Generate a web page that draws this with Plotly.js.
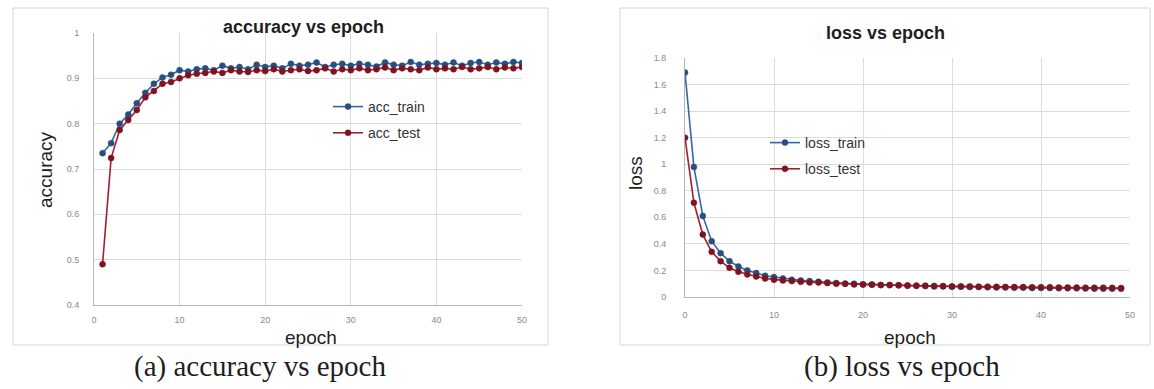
<!DOCTYPE html>
<html>
<head>
<meta charset="utf-8">
<script src="https://cdn.plot.ly/plotly-3.0.1.min.js"></script>
<style>html,body{margin:0;padding:0;background:#fff;}#chart{width:1154px;height:389px;}</style>
</head>
<body>
<div id="chart"></div>
<script>
// ---- data ----
const accEpochs = [1,2,3,4,5,6,7,8,9,10,11,12,13,14,15,16,17,18,19,20,21,22,23,24,25,26,27,28,29,30,31,32,33,34,35,36,37,38,39,40,41,42,43,44,45,46,47,48,49,50];
const accTrain = [0.735,0.757,0.80,0.82,0.845,0.868,0.888,0.902,0.908,0.918,0.915,0.92,0.922,0.918,0.928,0.922,0.925,0.92,0.93,0.925,0.928,0.922,0.932,0.928,0.93,0.935,0.925,0.93,0.932,0.928,0.932,0.93,0.926,0.935,0.93,0.928,0.936,0.93,0.932,0.934,0.93,0.935,0.928,0.934,0.936,0.93,0.935,0.932,0.936,0.934];
const accTest = [0.49,0.724,0.786,0.808,0.83,0.858,0.872,0.888,0.892,0.90,0.907,0.91,0.912,0.915,0.912,0.918,0.915,0.914,0.918,0.916,0.92,0.915,0.918,0.92,0.916,0.918,0.922,0.915,0.92,0.918,0.922,0.918,0.92,0.924,0.918,0.922,0.92,0.918,0.924,0.92,0.922,0.92,0.925,0.92,0.922,0.925,0.92,0.924,0.922,0.925];
const lossEpochs = [0,1,2,3,4,5,6,7,8,9,10,11,12,13,14,15,16,17,18,19,20,21,22,23,24,25,26,27,28,29,30,31,32,33,34,35,36,37,38,39,40,41,42,43,44,45,46,47,48,49];
const lossTrain = [1.69,0.98,0.61,0.42,0.33,0.27,0.23,0.20,0.18,0.16,0.15,0.14,0.13,0.125,0.12,0.115,0.11,0.105,0.10,0.10,0.095,0.095,0.09,0.09,0.088,0.085,0.085,0.082,0.08,0.08,0.078,0.078,0.075,0.075,0.073,0.072,0.072,0.07,0.07,0.068,0.068,0.067,0.066,0.065,0.065,0.064,0.063,0.063,0.062,0.062];
const lossTest = [1.2,0.71,0.47,0.34,0.27,0.22,0.19,0.17,0.155,0.14,0.13,0.125,0.12,0.115,0.11,0.11,0.105,0.10,0.10,0.095,0.095,0.093,0.09,0.09,0.088,0.087,0.085,0.085,0.083,0.082,0.08,0.08,0.08,0.078,0.078,0.077,0.076,0.075,0.075,0.074,0.074,0.073,0.072,0.072,0.071,0.07,0.07,0.07,0.069,0.068];
const accTicks = [0.4,0.5,0.6,0.7,0.8,0.9,1];
const accTickText = ['0.4','0.5','0.6','0.7','0.8','0.9','1'];
const lossTicks = [0,0.2,0.4,0.6,0.8,1,1.2,1.4,1.6,1.8];
const lossTickText = ['0','0.2','0.4','0.6','0.8','1','1.2','1.4','1.6','1.8'];
const epochTicks = [0,10,20,30,40,50];

// ---- helpers ----
const W = 1154, H = 389;
const px = x => x / W;
const py = y => 1 - y / H;
const blue = '#3567a3', blueDark = '#274f80';
const red = '#a3202e', redDark = '#7e1421';
const sans = 'Liberation Sans, Arial, sans-serif';
const serif = 'Liberation Serif, Times New Roman, serif';
const tickFont = {family: sans, size: 9, color: '#8a8a8a'};

function series(x, y, name, col, dark, xa, ya, lg) {
  return {x: x, y: y, name: name, type: 'scatter', mode: 'lines+markers',
    xaxis: xa, yaxis: ya, legend: lg, legendgroup: name,
    line: {color: col, width: 1.6},
    marker: {color: dark, size: 6, line: {color: dark, width: 0.5}}};
}

function label(text, x, y, size, family, angle) {
  return {text: text, x: px(x), y: py(y), xref: 'paper', yref: 'paper', showarrow: false,
    xanchor: 'center', yanchor: 'middle', textangle: angle || 0,
    font: {family: family, size: size, color: '#1e1e1e'}};
}

const data = [
  series(accEpochs, accTrain, 'acc_train', blue, blueDark, 'x', 'y', 'legend'),
  series(accEpochs, accTest, 'acc_test', red, redDark, 'x', 'y', 'legend'),
  series(lossEpochs, lossTrain, 'loss_train', blue, blueDark, 'x2', 'y2', 'legend2'),
  series(lossEpochs, lossTest, 'loss_test', red, redDark, 'x2', 'y2', 'legend2')
];

const axBase = {showgrid: true, gridcolor: '#dcdcdc', gridwidth: 1, zeroline: false,
  showline: true, linecolor: '#b5b5b5', linewidth: 1, ticks: '', tickfont: tickFont, fixedrange: true};

const legendBase = {font: {family: sans, size: 14, color: '#333'},
  bgcolor: 'rgba(0,0,0,0)', traceorder: 'grouped', tracegroupgap: 5, xanchor: 'left', yanchor: 'top', itemwidth: 30};

const layout = {
  width: W, height: H, margin: {l: 0, r: 0, t: 0, b: 0},
  paper_bgcolor: '#fff', plot_bgcolor: '#fff', showlegend: true,
  xaxis: Object.assign({}, axBase, {domain: [px(94), px(522)], range: [0, 50], tickvals: epochTicks, anchor: 'y', ticklabelstandoff: 6}),
  yaxis: Object.assign({}, axBase, {domain: [py(305), py(33)], range: [0.4, 1], tickvals: accTicks, ticktext: accTickText, anchor: 'x', ticklabelstandoff: 12}),
  xaxis2: Object.assign({}, axBase, {domain: [px(685), px(1130)], range: [0, 50], tickvals: epochTicks, anchor: 'y2', ticklabelstandoff: 9}),
  yaxis2: Object.assign({}, axBase, {domain: [py(297), py(58)], range: [0, 1.8], tickvals: lossTicks, ticktext: lossTickText, anchor: 'x2', ticklabelstandoff: 16}),
  legend: Object.assign({}, legendBase, {x: px(328), y: py(91)}),
  legend2: Object.assign({}, legendBase, {x: px(765), y: py(127)}),
  shapes: [
    {type: 'rect', xref: 'paper', yref: 'paper', x0: px(13), x1: px(548), y0: py(345), y1: py(8), line: {color: '#d6d6d6', width: 1}},
    {type: 'rect', xref: 'paper', yref: 'paper', x0: px(620), x1: px(1150), y0: py(345), y1: py(8), line: {color: '#d6d6d6', width: 1}}
  ],
  annotations: [
    label('<b>accuracy vs epoch</b>', 303, 27, 18, sans),
    label('<b>loss vs epoch</b>', 885, 33, 18, sans),
    label('accuracy', 45, 170, 19, sans, -90),
    label('loss', 635, 173, 19, sans, -90),
    label('epoch', 311, 337, 19, sans),
    label('epoch', 910, 337, 19, sans),
    label('(a) accuracy vs epoch', 260, 366, 29, serif),
    label('(b) loss vs epoch', 902, 366, 29, serif)
  ]
};

Plotly.newPlot('chart', data, layout, {staticPlot: true, displayModeBar: false});
</script>
</body>
</html>
